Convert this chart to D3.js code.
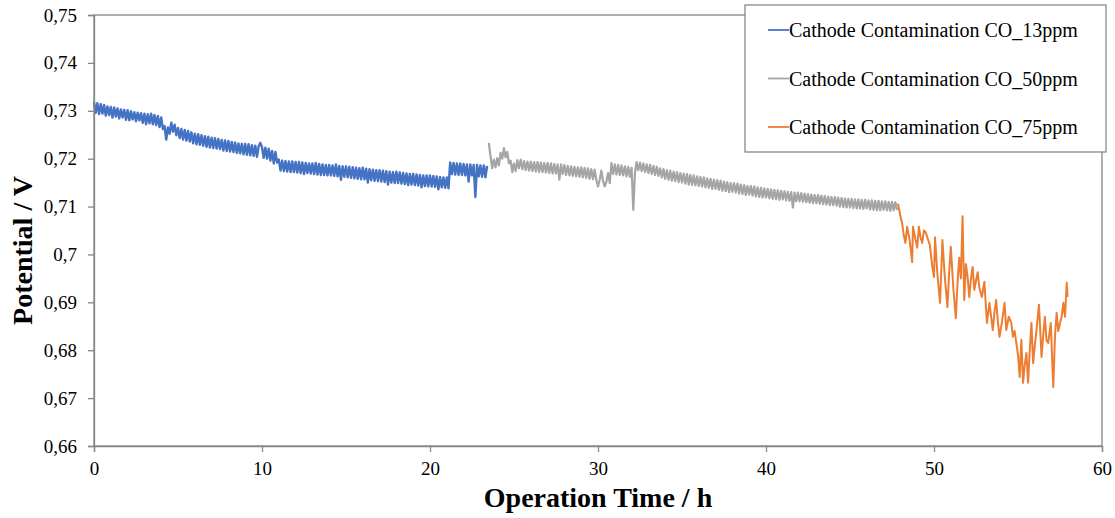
<!DOCTYPE html>
<html>
<head>
<meta charset="utf-8">
<script src="https://cdn.jsdelivr.net/npm/d3@7"></script>
<style>
  body { margin: 0; background: #fff; }
  text { font-family: 'Liberation Serif', 'Times New Roman', serif; fill: #000; }
</style>
</head>
<body>
<svg width="1115" height="518"></svg>
<script>
// ---- data ----
const seriesNames = ['Cathode Contamination CO_13ppm', 'Cathode Contamination CO_50ppm', 'Cathode Contamination CO_75ppm'];
const xTicks = [0, 10, 20, 30, 40, 50, 60];
const yTicks = [0.66, 0.67, 0.68, 0.69, 0.70, 0.71, 0.72, 0.73, 0.74, 0.75];

// logger samples every 0.1 h
const sampleStep = 0.1;

// CO 13 ppm, from t = 0 h
const blueStart = 0;
const blueVolt = [
  0.7318, 0.7296, 0.7316, 0.7293, 0.7314, 0.7294, 0.7312, 0.7290, 0.7309, 0.7291,
  0.7308, 0.7286, 0.7307, 0.7288, 0.7305, 0.7284, 0.7303, 0.7286, 0.7302, 0.7281,
  0.7301, 0.7280, 0.7299, 0.7282, 0.7297, 0.7278, 0.7296, 0.7280, 0.7295, 0.7275,
  0.7294, 0.7272, 0.7293, 0.7274, 0.7294, 0.7272, 0.7291, 0.7270, 0.7289, 0.7266,
  0.7286, 0.7262, 0.7268, 0.7240, 0.7265, 0.7252, 0.7275, 0.7256, 0.7271, 0.7249,
  0.7264, 0.7243, 0.7262, 0.7240, 0.7260, 0.7238, 0.7258, 0.7236, 0.7255, 0.7232,
  0.7252, 0.7230, 0.7251, 0.7229, 0.7249, 0.7227, 0.7247, 0.7225, 0.7246, 0.7223,
  0.7244, 0.7222, 0.7243, 0.7221, 0.7241, 0.7220, 0.7239, 0.7217, 0.7238, 0.7216,
  0.7237, 0.7215, 0.7235, 0.7214, 0.7234, 0.7212, 0.7232, 0.7211, 0.7231, 0.7209,
  0.7231, 0.7208, 0.7230, 0.7207, 0.7228, 0.7206, 0.7227, 0.7204, 0.7226, 0.7233,
  0.7224, 0.7202, 0.7223, 0.7200, 0.7221, 0.7196, 0.7216, 0.7190, 0.7214, 0.7192,
  0.7198, 0.7175, 0.7196, 0.7174, 0.7195, 0.7173, 0.7194, 0.7172, 0.7194, 0.7172,
  0.7193, 0.7171, 0.7193, 0.7170, 0.7192, 0.7168, 0.7191, 0.7170, 0.7190, 0.7169,
  0.7190, 0.7168, 0.7191, 0.7167, 0.7189, 0.7166, 0.7188, 0.7166, 0.7187, 0.7165,
  0.7187, 0.7165, 0.7186, 0.7164, 0.7188, 0.7163, 0.7185, 0.7156, 0.7184, 0.7162,
  0.7184, 0.7161, 0.7183, 0.7160, 0.7182, 0.7159, 0.7181, 0.7158, 0.7180, 0.7157,
  0.7181, 0.7157, 0.7179, 0.7150, 0.7178, 0.7155, 0.7177, 0.7154, 0.7176, 0.7153,
  0.7176, 0.7152, 0.7175, 0.7151, 0.7174, 0.7146, 0.7173, 0.7150, 0.7172, 0.7149,
  0.7173, 0.7149, 0.7171, 0.7148, 0.7170, 0.7147, 0.7169, 0.7145, 0.7168, 0.7146,
  0.7168, 0.7145, 0.7167, 0.7144, 0.7166, 0.7140, 0.7165, 0.7143, 0.7165, 0.7142,
  0.7165, 0.7142, 0.7164, 0.7141, 0.7163, 0.7136, 0.7162, 0.7140, 0.7161, 0.7139,
  0.7161, 0.7138, 0.7192, 0.7168, 0.7191, 0.7167, 0.7190, 0.7166, 0.7190, 0.7166,
  0.7189, 0.7165, 0.7188, 0.7152, 0.7188, 0.7165, 0.7187, 0.7120, 0.7187, 0.7163,
  0.7186, 0.7162, 0.7186, 0.7161, 0.7185
];

// CO 50 ppm, from t = 23.5 h
const grayStart = 23.5;
const grayVolt = [
  0.7233, 0.7206, 0.7180, 0.7198, 0.7182,
  0.7201, 0.7186, 0.7212, 0.7200, 0.7222, 0.7203, 0.7214, 0.7190, 0.7196, 0.7172,
  0.7190, 0.7174, 0.7197, 0.7180, 0.7198, 0.7178, 0.7195, 0.7176, 0.7194, 0.7175,
  0.7194, 0.7174, 0.7193, 0.7173, 0.7193, 0.7172, 0.7192, 0.7172, 0.7191, 0.7171,
  0.7191, 0.7170, 0.7190, 0.7169, 0.7189, 0.7169, 0.7188, 0.7156, 0.7188, 0.7168,
  0.7187, 0.7166, 0.7185, 0.7165, 0.7184, 0.7164, 0.7183, 0.7163, 0.7182, 0.7162,
  0.7182, 0.7161, 0.7181, 0.7160, 0.7180, 0.7158, 0.7178, 0.7157, 0.7177, 0.7156,
  0.7142, 0.7156, 0.7175, 0.7153, 0.7142, 0.7152, 0.7170, 0.7149, 0.7191, 0.7168,
  0.7188, 0.7167, 0.7187, 0.7166, 0.7186, 0.7165, 0.7184, 0.7163, 0.7183, 0.7162,
  0.7181, 0.7093, 0.7170, 0.7193, 0.7176, 0.7192, 0.7174, 0.7190, 0.7172, 0.7188,
  0.7170, 0.7187, 0.7168, 0.7185, 0.7166, 0.7183, 0.7164, 0.7180, 0.7161, 0.7178,
  0.7158, 0.7176, 0.7156, 0.7175, 0.7154, 0.7173, 0.7153, 0.7172, 0.7151, 0.7170,
  0.7150, 0.7169, 0.7148, 0.7168, 0.7146, 0.7166, 0.7145, 0.7165, 0.7144, 0.7163,
  0.7143, 0.7162, 0.7142, 0.7161, 0.7140, 0.7159, 0.7139, 0.7158, 0.7137, 0.7156,
  0.7137, 0.7155, 0.7135, 0.7154, 0.7133, 0.7152, 0.7132, 0.7151, 0.7130, 0.7149,
  0.7131, 0.7149, 0.7129, 0.7148, 0.7127, 0.7146, 0.7126, 0.7145, 0.7124, 0.7143,
  0.7125, 0.7143, 0.7123, 0.7142, 0.7121, 0.7140, 0.7120, 0.7139, 0.7119, 0.7138,
  0.7119, 0.7137, 0.7117, 0.7136, 0.7116, 0.7135, 0.7115, 0.7134, 0.7114, 0.7133,
  0.7115, 0.7132, 0.7113, 0.7131, 0.7112, 0.7130, 0.7098, 0.7129, 0.7111, 0.7129,
  0.7111, 0.7128, 0.7110, 0.7127, 0.7109, 0.7126, 0.7108, 0.7125, 0.7107, 0.7124,
  0.7107, 0.7124, 0.7106, 0.7123, 0.7105, 0.7122, 0.7104, 0.7121, 0.7103, 0.7120,
  0.7103, 0.7120, 0.7102, 0.7119, 0.7100, 0.7118, 0.7099, 0.7117, 0.7098, 0.7116,
  0.7098, 0.7116, 0.7097, 0.7115, 0.7096, 0.7115, 0.7096, 0.7114, 0.7095, 0.7114,
  0.7096, 0.7113, 0.7094, 0.7113, 0.7093, 0.7112, 0.7092, 0.7112, 0.7092, 0.7111,
  0.7093, 0.7111, 0.7092, 0.7110, 0.7091, 0.7110, 0.7092, 0.7109, 0.7093
];

// CO 75 ppm, [time h, potential V]
const orangeSeries = [
  [47.86, 0.7106], [48.0, 0.7080], [48.1, 0.7066], [48.2, 0.7040], [48.3, 0.7024],
  [48.4, 0.7058], [48.55, 0.7030], [48.7, 0.6984], [48.75, 0.7058], [48.85, 0.7040],
  [49.0, 0.7014], [49.1, 0.7058], [49.2, 0.7035], [49.3, 0.7024], [49.4, 0.7050],
  [49.5, 0.7047], [49.6, 0.7036], [49.75, 0.7020], [49.9, 0.6974], [50.0, 0.6953],
  [50.06, 0.7036], [50.2, 0.6960], [50.36, 0.6899], [50.45, 0.6980], [50.5, 0.7030],
  [50.65, 0.6950], [50.8, 0.6890], [50.9, 0.6960], [51.0, 0.7016], [51.15, 0.6930],
  [51.3, 0.6867], [51.4, 0.6940], [51.5, 0.6993], [51.6, 0.6950], [51.7, 0.7080],
  [51.8, 0.6905], [51.9, 0.6980], [52.0, 0.6953], [52.1, 0.6911], [52.2, 0.6950],
  [52.3, 0.6974], [52.4, 0.6926], [52.5, 0.6945], [52.6, 0.6963], [52.7, 0.6930],
  [52.85, 0.6911], [53.0, 0.6943], [53.15, 0.6857], [53.3, 0.6899], [53.4, 0.6870],
  [53.5, 0.6842], [53.6, 0.6880], [53.7, 0.6905], [53.8, 0.6860], [53.9, 0.6828],
  [54.05, 0.6860], [54.2, 0.6899], [54.3, 0.6842], [54.45, 0.6870], [54.6, 0.6857],
  [54.7, 0.6828], [54.8, 0.6840], [54.9, 0.6815], [55.0, 0.6790], [55.1, 0.6744],
  [55.2, 0.6822], [55.3, 0.6732], [55.4, 0.6770], [55.5, 0.6794], [55.6, 0.6732],
  [55.7, 0.6800], [55.8, 0.6857], [55.9, 0.6773], [56.0, 0.6810], [56.1, 0.6842],
  [56.25, 0.6895], [56.4, 0.6786], [56.5, 0.6830], [56.6, 0.6870], [56.7, 0.6820],
  [56.8, 0.6815], [56.95, 0.6857], [57.1, 0.6723], [57.2, 0.6828], [57.3, 0.6878],
  [57.4, 0.6840], [57.5, 0.6857], [57.6, 0.6870], [57.7, 0.6899], [57.8, 0.6870],
  [57.9, 0.6941], [57.95, 0.6911]
];

const colors = ['#4472C4', '#A5A5A5', '#ED7D31'];
const serif = "'Liberation Serif', 'Times New Roman', serif";

// ---- setup ----
const svg = d3.select('svg');
const width = +svg.attr('width');
const height = +svg.attr('height');

const plot = { left: 94, right: 1102, top: 15, bottom: 446 };
const axisGrey = '#868686';

const x = d3.scaleLinear().domain([0, 60]).range([plot.left, plot.right]);
const y = d3.scaleLinear().domain([0.66, 0.75]).range([plot.bottom, plot.top]);

// frame round plot area
svg.append('rect')
    .attr('x', plot.left)
    .attr('y', plot.top)
    .attr('width', plot.right - plot.left)
    .attr('height', plot.bottom - plot.top)
    .attr('fill', 'none')
    .attr('stroke', axisGrey)
    .attr('stroke-width', 1.3);

// ---- series ----
const line = d3.line()
    .x(d => x(d[0]))
    .y(d => y(d[1]));

const bluePts = blueVolt.map((v, i) => [blueStart + i * sampleStep, v]);
const grayPts = grayVolt.map((v, i) => [grayStart + i * sampleStep, v]);

const seriesG = svg.append('g');

// noisy bands: thick stroke so the zigzag fills in
seriesG.append('path')
    .attr('d', line(bluePts))
    .attr('fill', 'none')
    .attr('stroke', colors[0])
    .attr('stroke-width', 2.4)
    .attr('stroke-linejoin', 'round');

seriesG.append('path')
    .attr('d', line(grayPts))
    .attr('fill', 'none')
    .attr('stroke', colors[1])
    .attr('stroke-width', 2.2)
    .attr('stroke-linejoin', 'round');

seriesG.append('path')
    .attr('d', line(orangeSeries))
    .attr('fill', 'none')
    .attr('stroke', colors[2])
    .attr('stroke-width', 2)
    .attr('stroke-linejoin', 'round');

// ---- axes ----
const fmt = d => d3.format('.2f')(d).replace('.', ',');

const yAxis = svg.append('g')
    .attr('transform', `translate(${plot.left},0)`)
    .call(d3.axisLeft(y).tickValues(yTicks).tickFormat(d => d === 0.70 ? '0,7' : fmt(d)).tickSize(6).tickPadding(11));

const xAxis = svg.append('g')
    .attr('transform', `translate(0,${plot.bottom})`)
    .call(d3.axisBottom(x).tickValues(xTicks).tickSize(6).tickPadding(10));

[xAxis, yAxis].forEach(a => {
  a.attr('font-family', serif).attr('font-size', 19);
  a.select('.domain').attr('stroke', axisGrey).attr('stroke-width', 1.3);
  a.selectAll('.tick line').attr('stroke', axisGrey).attr('stroke-width', 1.3);
  a.selectAll('.tick text')
      .style('font-family', serif)
      .attr('font-size', 19)
      .attr('fill', '#000');
});

// axis titles
svg.append('text')
    .attr('x', (plot.left + plot.right) / 2)
    .attr('y', 507)
    .attr('text-anchor', 'middle')
    .attr('font-size', 28)
    .attr('font-weight', 'bold')
    .text('Operation Time / h');

svg.append('text')
    .attr('transform', `translate(32,${(plot.top + plot.bottom) / 2 + 20}) rotate(-90)`)
    .attr('text-anchor', 'middle')
    .attr('font-size', 28)
    .attr('font-weight', 'bold')
    .text('Potential / V');

// ---- legend ----
const legend = svg.append('g');

legend.append('rect')
    .attr('x', 745)
    .attr('y', 5)
    .attr('width', 361)
    .attr('height', 147)
    .attr('fill', '#fff')
    .attr('stroke', '#7f7f7f')
    .attr('stroke-width', 1.2);

const rowY = d3.scalePoint().domain(seriesNames).range([30, 127]);

seriesNames.forEach((name, i) => {
  const ry = rowY(name);
  legend.append('line')
      .attr('x1', 768)
      .attr('x2', 789)
      .attr('y1', ry)
      .attr('y2', ry)
      .attr('stroke', colors[i])
      .attr('stroke-width', 1.8);
  legend.append('text')
      .attr('x', 789)
      .attr('y', ry + 7)
      .style('font-family', serif)
      .attr('font-size', 20)
      .text(name);
});
</script>
</body>
</html>
